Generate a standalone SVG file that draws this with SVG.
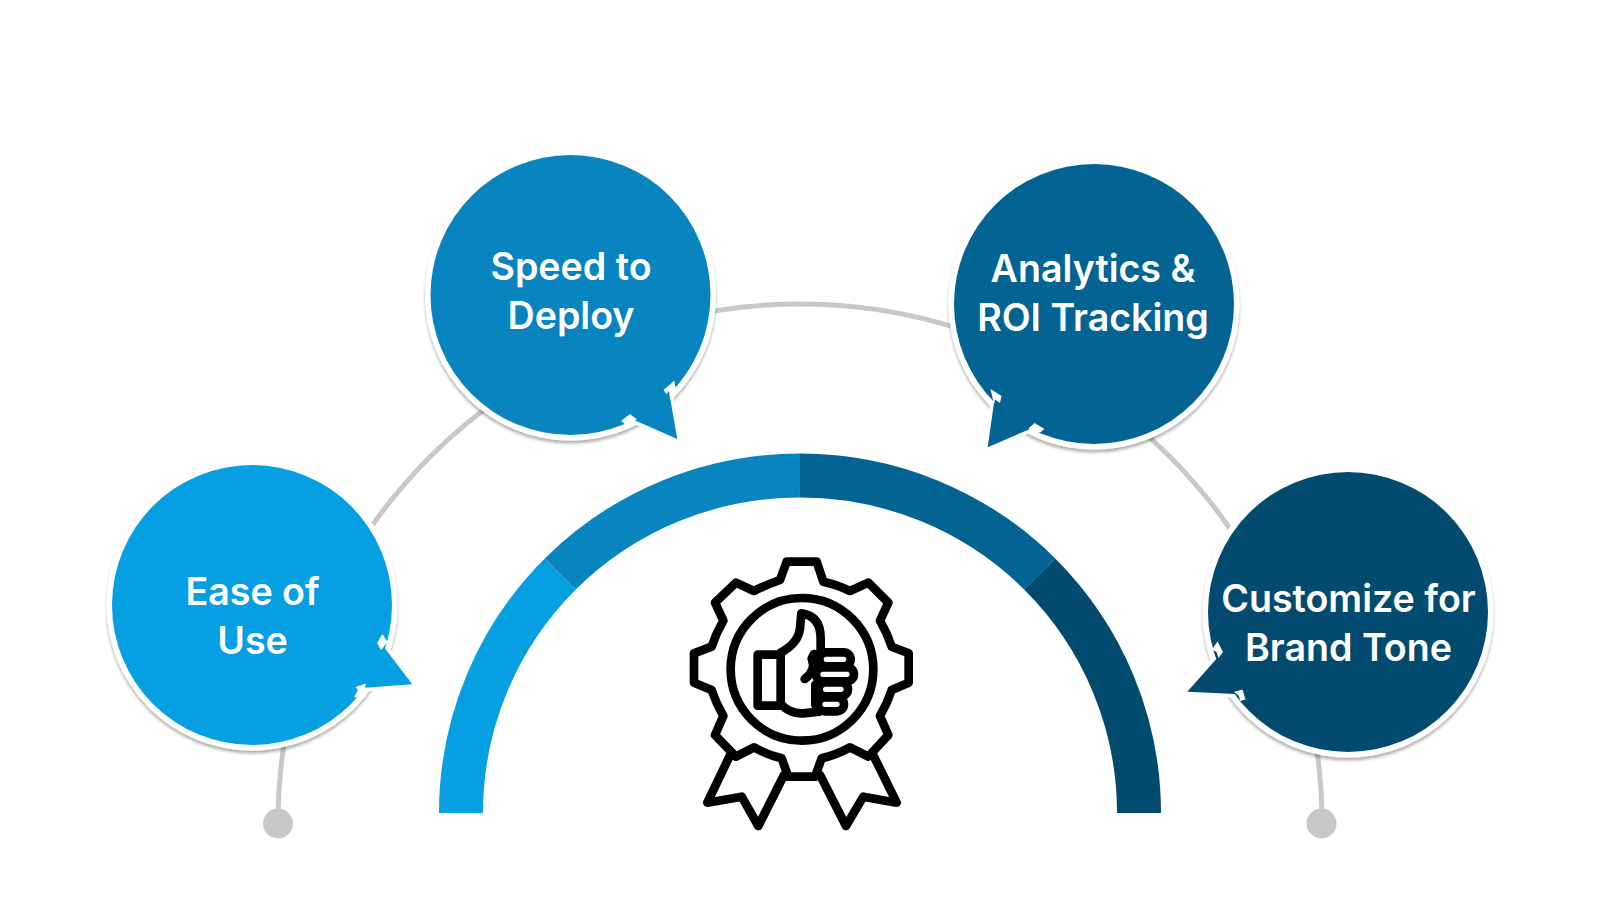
<svg xmlns="http://www.w3.org/2000/svg" width="1600" height="900" viewBox="0 0 1600 900">
<style>
.wire{fill:none;stroke:#c8c8c8;stroke-width:5}
.dot{fill:#c8c8c8}
.ring{fill:#fff;filter:url(#sh)}
.band{fill:none;stroke-width:44}
.lbl{font-family:Inter,"Liberation Sans",sans-serif;font-size:37.600px;font-weight:600;fill:#fff;text-anchor:middle}
.notch{fill:#fff}
.mask{fill:#fff;stroke:#fff;stroke-width:7}
.c1{fill:#069fe2}.c2{fill:#0884be}.c3{fill:#036494}.c4{fill:#024b6e}
.ic{fill:none;stroke:#000;stroke-width:26;stroke-linejoin:round;stroke-linecap:round}
.icw{fill:#fff;stroke:#000;stroke-width:26;stroke-linejoin:round}
</style>
<defs>
<filter id="sh" x="-10%" y="-10%" width="120%" height="120%"><feDropShadow dx="0" dy="3" stdDeviation="1.800" flood-color="#000" flood-opacity="0.3"/></filter>
</defs>
<rect width="1600" height="900" fill="#fff"/>
<g id="connectors">
<path class="wire" d="M278 823A522 519 0 0 1 1322 823"/>
<circle class="dot" cx="278" cy="823.500" r="15"/>
<circle class="dot" cx="1321.500" cy="823.500" r="15"/>
</g>
<g id="gauge">
<path class="band" stroke="#069fe2" d="M461 813A339 338 0 0 1 560.300 574"/>
<path class="band" stroke="#0884be" d="M560.300 574A339 338 0 0 1 800 475.500"/>
<path class="band" stroke="#036494" d="M800 475.500A339 338 0 0 1 1039.700 574"/>
<path class="band" stroke="#024b6e" d="M1039.700 574A339 338 0 0 1 1139 813"/>
</g>
<g id="node-ease">
<circle class="ring" cx="252" cy="605" r="145.500"/>
<polygon class="mask" points="384,647 412,684 365,688"/>
<circle class="c1" cx="252" cy="605" r="140"/>
<polygon class="c1" points="340,620 383.500,646.500 412.300,684.300 365,687.700 330,660"/>
<polygon class="notch" points="377,643 382.500,634 385.500,639 387.500,642 383.500,647 381,650"/>
<polygon class="notch" points="354,697 358,690 355.500,687 366,683.500 364.500,689 361,698"/>
<text class="lbl" x="252.500" y="605">Ease of</text>
<text class="lbl" x="252.500" y="654">Use</text>
</g>
<g id="node-speed">
<circle class="ring" cx="570.500" cy="295" r="145.500"/>
<polygon class="mask" points="634,420 669,392 677,439"/>
<circle class="c2" cx="570.500" cy="295" r="140"/>
<polygon class="c2" points="620,400 634,420 677.300,439 669,392 655,370"/>
<polygon class="notch" points="621,421 630,414 637,419.500 633,421.500 626,425"/>
<polygon class="notch" points="663.500,390 674.500,380.500 675.500,390 670,397 669,391 666.500,394"/>
<text class="lbl" x="571" y="280">Speed to</text>
<text class="lbl" x="571" y="329">Deploy</text>
</g>
<g id="node-analytics">
<circle class="ring" cx="1094" cy="304" r="145.500"/>
<polygon class="mask" points="994,400 1030,429 988,447"/>
<circle class="c3" cx="1094" cy="304" r="140"/>
<polygon class="c3" points="1010,380 994.300,400.700 987.700,447.300 1030,429 1050,415"/>
<polygon class="notch" points="990.500,389 1001.500,396 1000,403 995,399.500 994,404"/>
<polygon class="notch" points="1028.500,428.500 1034.500,423 1044.500,429 1040,432.500 1033,431.500"/>
<text class="lbl" x="1093" y="282">Analytics &amp;</text>
<text class="lbl" x="1093" y="331">ROI Tracking</text>
</g>
<g id="node-customize">
<circle class="ring" cx="1348" cy="612" r="145.500"/>
<polygon class="mask" points="1218,657 1235,694 1187,692"/>
<circle class="c4" cx="1348" cy="612" r="140"/>
<polygon class="c4" points="1240,640 1218.300,656.700 1187.300,691.700 1235,694 1255,700"/>
<polygon class="notch" points="1212,649.500 1217.500,641.500 1223,652 1218.500,658 1216.500,652"/>
<polygon class="notch" points="1234,692 1242.500,689.500 1245.500,699.500 1240,701 1239,696"/>
<text class="lbl" x="1348.500" y="612">Customize for</text>
<text class="lbl" x="1348.500" y="661">Brand Tone</text>
</g>
<g id="icon" transform="translate(660 530) scale(.33333)">
<path class="ic" d="M212 672L142 818 245 800 295 888 372 735M638 672L710 818 610 800 558 888 480 735"/>
<path class="icw" d="M380 95H470L490 155Q532 164 570 183L625 158 685 218 660 272Q682 310 695 350L746 370V458L695 480Q682 520 660 558L685 615 625 680 570 652Q530 674 485 685L465 740H385L365 685Q320 674 282 652L228 680 165 615 190 558Q168 520 155 480L102 458V370L155 350Q168 310 190 272L165 218 228 158 282 183Q320 164 360 150Z"/>
<circle class="icw" cx="426" cy="418" r="214"/>
<rect class="ic" x="293" y="374" width="69" height="153"/>
<path class="ic" d="M362 368Q415 340 420 295L424 250Q482 258 482 325V364M362 522Q392 553 430 550L478 545M462 372L455 386Q470 420 434 447M466 464V525"/>
<rect class="icw" x="478" y="367" width="94" height="42" rx="21"/>
<rect class="icw" x="468" y="412" width="114" height="42" rx="21"/>
<rect class="icw" x="476" y="457" width="88" height="42" rx="21"/>
<rect class="icw" x="474" y="502" width="78" height="42" rx="21"/>
</g>
</svg>
